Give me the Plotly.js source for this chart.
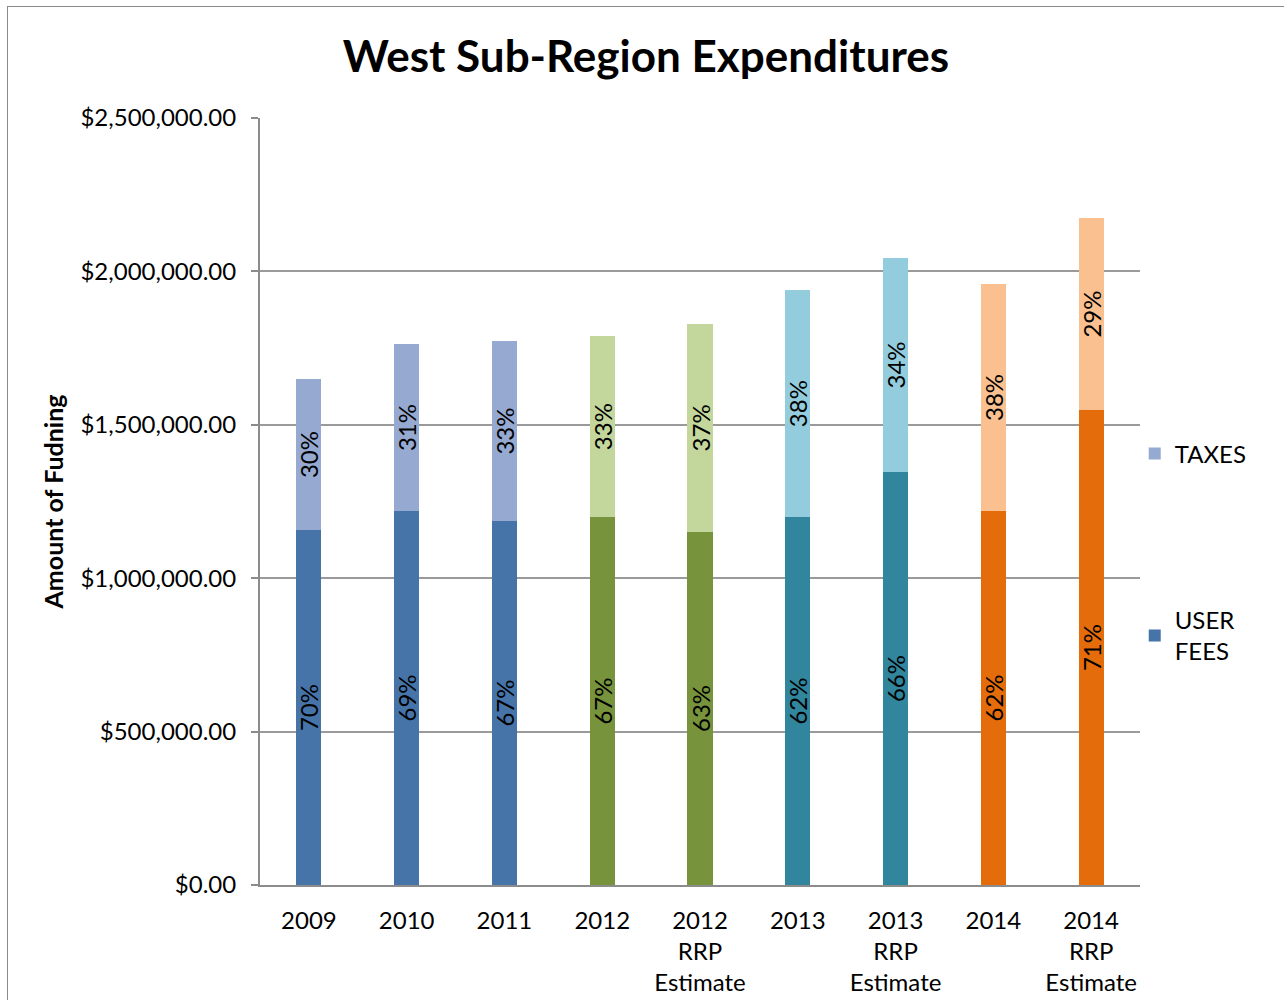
<!DOCTYPE html>
<html>
<head>
<meta charset="utf-8">
<script src="https://cdn.plot.ly/plotly-3.0.1.min.js"></script>
<style>
  html, body { margin: 0; padding: 0; background: #fff; overflow: hidden; }
  #wrap { position: relative; width: 1284px; height: 1000px; }
  #frame { position: absolute; left: 7px; top: 6px; width: 1300px; height: 1100px; border: 1.5px solid #8a8a8a; pointer-events: none; }
  #chart { position: absolute; left: 0; top: 0; width: 1284px; height: 1000px; }
</style>
</head>
<body>
<div id="wrap">
  <div id="chart"></div>
  <div id="frame"></div>
</div>
<script>
// ---- data ----
const categories = ["2009", "2010", "2011", "2012", "2012<br>RRP<br>Estimate", "2013", "2013<br>RRP<br>Estimate", "2014", "2014<br>RRP<br>Estimate"];
const userFees = [1157000, 1219000, 1186000, 1199000, 1151000, 1199000, 1346000, 1219000, 1548000];
const taxes    = [492000, 544000, 587000, 590000, 678000, 740000, 698000, 740000, 626000];
const userFeesLabels = ["70%", "69%", "67%", "67%", "63%", "62%", "66%", "62%", "71%"];
const taxesLabels    = ["30%", "31%", "33%", "33%", "37%", "38%", "34%", "38%", "29%"];
const userFeesColors = ["#4674A9", "#4674A9", "#4674A9", "#77933C", "#77933C", "#31859C", "#31859C", "#E46C0A", "#E46C0A"];
const taxesColors    = ["#95A9D1", "#95A9D1", "#95A9D1", "#C3D69B", "#C3D69B", "#93CDDD", "#93CDDD", "#FAC090", "#FAC090"];

const FONT = "Lato, 'Open Sans', sans-serif";

const common = {
  type: "bar",
  x: categories,
  width: 0.256,
  textposition: "inside",
  insidetextanchor: "middle",
  textangle: -90,
  constraintext: "none",
  textfont: { family: FONT, size: 24, color: "#000" },
  hoverinfo: "skip"
};

const traces = [
  Object.assign({}, common, {
    name: "USER<br>FEES",
    y: userFees,
    text: userFeesLabels,
    marker: { color: userFeesColors, line: { width: 0 } },
    legend: "legend2"
  }),
  Object.assign({}, common, {
    name: "TAXES",
    y: taxes,
    text: taxesLabels,
    marker: { color: taxesColors, line: { width: 0 } },
    legend: "legend"
  })
];

const layout = {
  width: 1284,
  height: 1000,
  barmode: "stack",
  paper_bgcolor: "rgba(0,0,0,0)",
  plot_bgcolor: "#fff",
  font: { family: FONT, size: 24, color: "#000" },
  margin: { l: 260, r: 144, t: 118, b: 115, pad: 0 },
  title: {
    text: "<b>West Sub-Region Expenditures</b>",
    font: { family: FONT, size: 44, color: "#000" },
    x: 0.503, xanchor: "center",
    y: 0.943, yanchor: "middle"
  },
  xaxis: {
    type: "category",
    showline: true,
    linecolor: "#8c8c8c",
    linewidth: 2,
    ticks: "",
    tickfont: { family: FONT, size: 24, color: "#000" },
    ticklabelstandoff: 13,
    showgrid: false,
    zeroline: false
  },
  yaxis: {
    range: [0, 2500000],
    dtick: 500000,
    tick0: 0,
    tickformat: "$,.2f",
    ticks: "outside",
    ticklen: 7,
    tickwidth: 2,
    tickcolor: "#8c8c8c",
    showline: true,
    linecolor: "#8c8c8c",
    linewidth: 2,
    showgrid: true,
    gridcolor: "#9a9a9a",
    gridwidth: 2,
    zeroline: false,
    tickfont: { family: FONT, size: 24, color: "#000" },
    ticklabelstandoff: 10,
    title: {
      text: "<b>Amount of Fudning</b>",
      font: { family: FONT, size: 25, color: "#000" },
      standoff: 10
    }
  },
  legend: {
    x: 0.994, xanchor: "left",
    y: 0.562, yanchor: "middle",
    font: { family: FONT, size: 24, color: "#000" },
    bgcolor: "rgba(0,0,0,0)",
    itemwidth: 30,
    traceorder: "normal"
  },
  legend2: {
    x: 0.994, xanchor: "left",
    y: 0.325, yanchor: "middle",
    font: { family: FONT, size: 24, color: "#000" },
    bgcolor: "rgba(0,0,0,0)",
    itemwidth: 30,
    traceorder: "normal"
  },
  showlegend: true
};

Plotly.newPlot("chart", traces, layout, { displayModeBar: false, staticPlot: true });
</script>
</body>
</html>
